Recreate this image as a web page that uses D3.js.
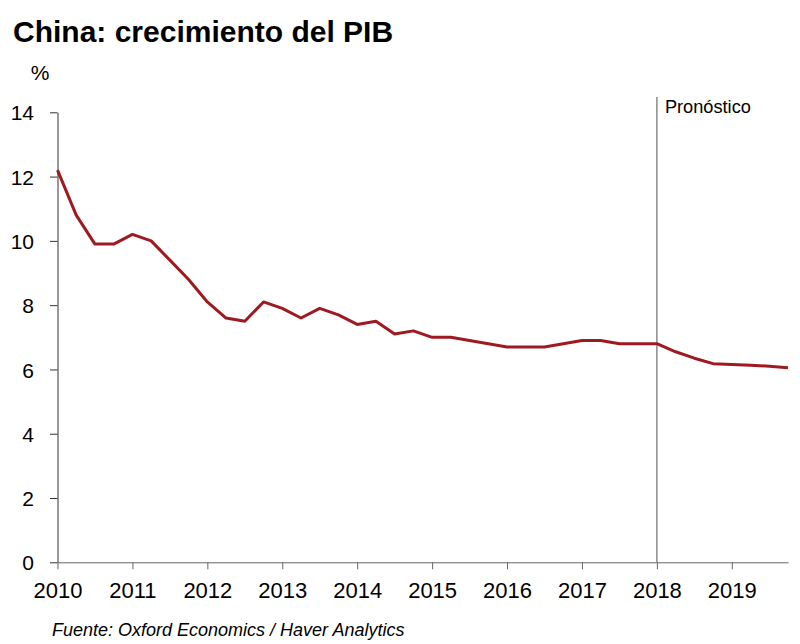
<!DOCTYPE html>
<html>
<head>
<meta charset="utf-8">
<script src="https://cdn.jsdelivr.net/npm/d3@7"></script>
<style>
  body { margin: 0; background: #fff; }
  text { font-family: "Liberation Sans", Arial, sans-serif; }
</style>
</head>
<body>
<div id="chart-area"></div>
<script>
// Data: crecimiento trimestral del PIB (% a/a)
var quarters = ["2010T1","2010T2","2010T3","2010T4","2011T1","2011T2","2011T3","2011T4",
    "2012T1","2012T2","2012T3","2012T4","2013T1","2013T2","2013T3","2013T4",
    "2014T1","2014T2","2014T3","2014T4","2015T1","2015T2","2015T3","2015T4",
    "2016T1","2016T2","2016T3","2016T4","2017T1","2017T2","2017T3","2017T4",
    "2018T1","2018T2","2018T3","2018T4","2019T1","2019T2","2019T3","2019T4"];
var gdp = [12.2, 10.8, 9.9, 9.9, 10.2, 10.0, 9.4, 8.8,
    8.1, 7.6, 7.5, 8.1, 7.9, 7.6, 7.9, 7.7,
    7.4, 7.5, 7.1, 7.2, 7.0, 7.0, 6.9, 6.8,
    6.7, 6.7, 6.7, 6.8, 6.9, 6.9, 6.8, 6.8,
    6.8, 6.55, 6.35, 6.18, 6.15, 6.13, 6.1, 6.05];
var yearTicks = [2010, 2011, 2012, 2013, 2014, 2015, 2016, 2017, 2018, 2019];
var yTicks = [0, 2, 4, 6, 8, 10, 12, 14];
var forecastStart = 2018;

var data = quarters.map(function(q, i) {
    return { t: +q.slice(0, 4) + (+q.slice(5) - 1) / 4, v: gdp[i] };
});

var svg = d3.select("#chart-area")
    .append("svg")
        .attr("width", 800)
        .attr("height", 644);

// Scales
var x = d3.scaleLinear()
    .domain([2010, 2019.75])
    .range([57.5, 788]);
var y = d3.scaleLinear()
    .domain([0, 14])
    .range([562.3, 112.3]);

// Title
svg.append("text")
    .attr("x", 13)
    .attr("y", 42)
    .attr("font-size", "30px")
    .attr("font-weight", "bold")
    .attr("fill", "#000")
    .text("China: crecimiento del PIB");

svg.append("text")
    .attr("x", 40)
    .attr("y", 80)
    .attr("text-anchor", "middle")
    .attr("font-size", "21px")
    .text("%");

// Forecast line
svg.append("line")
    .attr("x1", x(forecastStart))
    .attr("x2", x(forecastStart))
    .attr("y1", 97)
    .attr("y2", y(0))
    .attr("stroke", "#8a8a8a")
    .attr("stroke-width", 1.5);

svg.append("text")
    .attr("x", x(forecastStart) + 8)
    .attr("y", 113)
    .attr("font-size", "19px")
    .attr("textLength", 86)
    .attr("lengthAdjust", "spacingAndGlyphs")
    .text("Pronóstico");

// Y Axis
var yAxisCall = d3.axisLeft(y)
    .tickValues(yTicks)
    .tickSize(7.5)
    .tickPadding(16)
    .tickSizeOuter(0);
var yAxis = svg.append("g")
    .attr("transform", "translate(" + x(2010) + ",0)")
    .call(yAxisCall);
yAxis.selectAll("text")
    .attr("font-size", "21px")
    .attr("fill", "#000")
    .attr("dy", "0.36em");
yAxis.selectAll("line, path").attr("stroke", "#333");

// X Axis
var xAxisCall = d3.axisBottom(x)
    .tickValues(yearTicks)
    .tickFormat(d3.format("d"))
    .tickSize(7)
    .tickPadding(13)
    .tickSizeOuter(0);
var xAxis = svg.append("g")
    .attr("transform", "translate(0," + y(0) + ")")
    .call(xAxisCall);
xAxis.selectAll("text")
    .attr("font-size", "22px")
    .attr("fill", "#000");
xAxis.selectAll("line, path").attr("stroke", "#666");

// GDP line
var line = d3.line()
    .x(function(d) { return x(d.t); })
    .y(function(d) { return y(d.v); });

svg.append("path")
    .datum(data)
    .attr("fill", "none")
    .attr("stroke", "#9e1a20")
    .attr("stroke-width", 3)
    .attr("stroke-linejoin", "round")
    .attr("d", line);

// Source
svg.append("text")
    .attr("x", 52)
    .attr("y", 636)
    .attr("font-size", "18px")
    .attr("font-style", "italic")
    .text("Fuente: Oxford Economics / Haver Analytics");
</script>
</body>
</html>
